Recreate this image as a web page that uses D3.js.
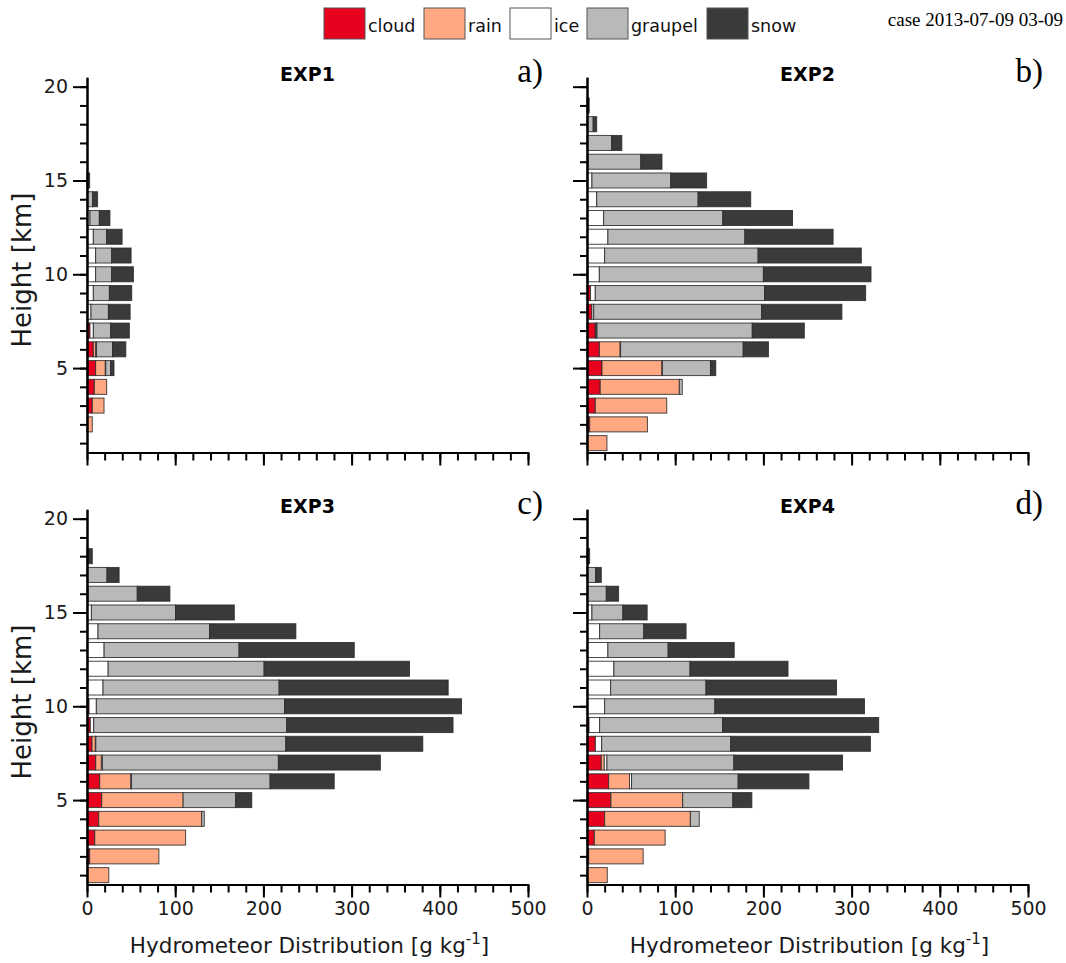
<!DOCTYPE html>
<html>
<head>
<meta charset="utf-8">
<script src="https://cdn.jsdelivr.net/npm/d3@7"></script>
<style>
  body { margin: 0; background: #fff; }
  text { font-family: "DejaVu Sans", sans-serif; }
</style>
</head>
<body>
<div id="chart"></div>
<script>
// heights of the bars (km), one bar per level
var heights = [1, 2, 3, 4, 5, 6, 7, 8, 9, 10, 11, 12, 13, 14, 15, 16, 17, 18, 19];
var species = ["cloud", "rain", "ice", "graupel", "snow"];
var speciesColors = ["#e8001f", "#ffa882", "#ffffff", "#b9b9b9", "#3a3a3a"];
var xTicks = [0, 100, 200, 300, 400, 500];
var yTicks = [5, 10, 15, 20];

// EXP1  (g kg-1 per level, bottom -> top)
var exp1_cloud   = [0, 0, 6, 8.3, 9.8, 7.2, 3.4, 0.5, 0, 0, 0, 0, 0, 0, 0, 0, 0, 0, 0];
var exp1_rain    = [0, 6, 13.3, 14, 11, 2.6, 0, 0, 0, 0, 0, 0, 0, 0, 0, 0, 0, 0, 0];
var exp1_ice     = [0, 0, 0, 0, 0.5, 1, 3.8, 4, 7.2, 9.8, 9.8, 7.2, 3.4, 0.5, 0, 0, 0, 0, 0];
var exp1_graupel = [0, 0, 0, 0, 5.5, 18.2, 19.7, 19.8, 18.2, 18.2, 18.2, 15.1, 10.6, 5.9, 0.3, 0, 0, 0, 0];
var exp1_snow    = [0, 0, 0, 0, 3.8, 15, 21.1, 24.6, 25.3, 24.6, 22, 17.5, 12, 5.6, 2.7, 0, 0, 0, 0];

// EXP2
var exp2_cloud   = [0, 3, 9.4, 15, 17, 14, 9.4, 5.6, 4, 1, 0, 0, 0, 0, 0, 0, 0, 0, 0];
var exp2_rain    = [22.6, 65.5, 81, 89.7, 68, 23.6, 1, 0, 0, 0, 0, 0, 0, 0, 0, 0, 0, 0, 0];
var exp2_ice     = [0, 0, 0, 0, 0.5, 0.5, 1, 2, 5.4, 13, 20, 23.7, 18.8, 11, 5.6, 1, 0.5, 0.5, 0];
var exp2_graupel = [0, 0, 0, 3.3, 54.5, 139, 176, 190.4, 192, 186, 174, 155.3, 135.2, 115, 89.4, 60, 27.5, 6.5, 0.5];
var exp2_snow    = [0, 0, 0, 0, 6, 28.6, 59, 91, 114.5, 122, 117, 100, 79, 59.6, 40.6, 24, 11.5, 4, 2];

// EXP3
var exp3_cloud   = [0, 3, 8.8, 13.3, 16.7, 14.4, 9.9, 5.7, 3.8, 2.3, 0, 0, 0, 0, 0, 0, 0, 0, 0];
var exp3_rain    = [24.7, 78.5, 103, 116.7, 92.3, 35.3, 6.4, 3.8, 0, 0, 0, 0, 0, 0, 0, 0, 0, 0, 0];
var exp3_ice     = [0, 0, 0, 0, 0, 0.7, 1.2, 0.5, 3.8, 8.3, 18.2, 24, 19.4, 12.5, 5, 1, 0.5, 0, 0];
var exp3_graupel = [0, 0, 0, 3, 59.6, 157.2, 199.5, 215.4, 218.9, 213.4, 199.6, 176.8, 153, 126.5, 95.4, 56, 22.2, 1, 0];
var exp3_snow    = [0, 0, 0, 0, 18.2, 72.7, 115.6, 155.3, 188.5, 200.6, 191.7, 164.8, 130.6, 97.8, 66.6, 37, 13.7, 5, 0];

// EXP4
var exp4_cloud   = [0, 1.9, 8.3, 20, 27.1, 24.5, 16.2, 9.5, 2.3, 0, 0, 0, 0, 0, 0, 0, 0, 0, 0];
var exp4_rain    = [23, 61.8, 80.3, 97.2, 81.4, 23.7, 3.4, 0, 0, 0, 0, 0, 0, 0, 0, 0, 0, 0, 0];
var exp4_ice     = [0, 0, 0, 0, 0, 2.3, 3, 7.1, 12, 20, 26.8, 30.5, 23.7, 14.3, 5.6, 0.5, 0.5, 0, 0];
var exp4_graupel = [0, 0, 0, 10.1, 56.9, 120.9, 143.9, 146.4, 139.4, 125, 108.1, 86.3, 68.3, 50.1, 35.1, 21.4, 9.3, 1, 0];
var exp4_snow    = [0, 0, 0, 0, 21.5, 80.2, 123.2, 158.3, 177, 169.6, 148, 111.1, 74.9, 47.9, 27.5, 13.9, 6.4, 2, 0];

var width = 1066;
var height = 963;

var svg = d3.select("#chart").append("svg")
    .attr("width", width)
    .attr("height", height);

function rowsOf(c, r, i, g, s) {
    return heights.map(function (h, k) {
        return { h: h, cloud: c[k], rain: r[k], ice: i[k], graupel: g[k], snow: s[k] };
    });
}

var panels = [
    { name: "EXP1", tag: "a)", left: 87, top: 0, ylab: true, xlab: false,
      rows: rowsOf(exp1_cloud, exp1_rain, exp1_ice, exp1_graupel, exp1_snow) },
    { name: "EXP2", tag: "b)", left: 587, top: 0, ylab: false, xlab: false,
      rows: rowsOf(exp2_cloud, exp2_rain, exp2_ice, exp2_graupel, exp2_snow) },
    { name: "EXP3", tag: "c)", left: 87, top: 432, ylab: true, xlab: true,
      rows: rowsOf(exp3_cloud, exp3_rain, exp3_ice, exp3_graupel, exp3_snow) },
    { name: "EXP4", tag: "d)", left: 587, top: 432, ylab: false, xlab: true,
      rows: rowsOf(exp4_cloud, exp4_rain, exp4_ice, exp4_graupel, exp4_snow) }
];

var color = d3.scaleOrdinal().domain(species).range(speciesColors);
var stack = d3.stack().keys(species);

panels.forEach(function (p) {
    var x = d3.scaleLinear().domain([0, 500]).range([p.left, p.left + 441]);
    var y = d3.scaleLinear().domain([0.5, 20.5]).range([p.top + 452.5, p.top + 77.3]);
    var bh = (y(0) - y(1)) * 0.8;

    var g = svg.append("g");

    // stacked bars
    var layers = g.selectAll("g.layer")
        .data(stack(p.rows))
        .enter().append("g")
        .attr("fill", function (d) { return color(d.key); });

    layers.selectAll("rect")
        .data(function (d) { return d.filter(function (s) { return s[1] - s[0] > 0; }); })
        .enter().append("rect")
        .attr("x", function (d) { return x(d[0]); })
        .attr("width", function (d) { return x(d[1]) - x(d[0]); })
        .attr("y", function (d) { return y(d.data.h) - bh / 2; })
        .attr("height", bh)
        .attr("stroke", "#2b2b2b")
        .attr("stroke-opacity", 0.85)
        .attr("stroke-width", 1);

    // y axis, minor then major ticks
    var yMinor = g.append("g")
        .attr("transform", "translate(" + p.left + ",0)")
        .call(d3.axisLeft(y).tickValues(d3.range(1, 21)).tickSize(7).tickSizeOuter(0).tickFormat(""));
    var yMajor = g.append("g")
        .attr("transform", "translate(" + p.left + ",0)")
        .call(d3.axisLeft(y).tickValues(yTicks).tickSize(14).tickSizeOuter(0).tickPadding(5)
            .tickFormat(p.ylab ? d3.format("d") : ""));

    // x axis
    var xMinor = g.append("g")
        .attr("transform", "translate(0," + y(0.5) + ")")
        .call(d3.axisBottom(x).tickValues(d3.range(0, 501, 20)).tickSize(8).tickSizeOuter(0).tickFormat(""));
    var xMajor = g.append("g")
        .attr("transform", "translate(0," + y(0.5) + ")")
        .call(d3.axisBottom(x).tickValues(xTicks).tickSize(13).tickSizeOuter(0).tickPadding(4)
            .tickFormat(p.xlab ? d3.format("d") : ""));

    [yMinor, yMajor, xMinor, xMajor].forEach(function (a) {
        a.selectAll("path.domain").attr("stroke", "#000").attr("stroke-width", 2);
        a.selectAll(".tick line").attr("stroke", "#000").attr("stroke-width", 2);
        a.selectAll(".tick text")
            .attr("fill", "#1a1a1a")
            .style("font-family", "DejaVu Sans, sans-serif")
            .style("font-size", "19px");
    });

    // titles
    g.append("text")
        .attr("x", (x(0) + x(500)) / 2)
        .attr("y", p.top + 81)
        .attr("text-anchor", "middle")
        .style("font-weight", "bold")
        .style("font-size", "19px")
        .text(p.name);

    g.append("text")
        .attr("x", x(500) + 15)
        .attr("y", p.top + 82)
        .attr("text-anchor", "end")
        .style("font-family", "Liberation Serif, serif")
        .style("font-size", "33px")
        .text(p.tag);

    if (p.ylab) {
        g.append("text")
            .attr("transform", "translate(31," + (p.top + 270) + ") rotate(-90)")
            .attr("text-anchor", "middle")
            .style("font-size", "26px")
            .attr("fill", "#1a1a1a")
            .text("Height [km]");
    }

    if (p.xlab) {
        var xl = g.append("text")
            .attr("x", (x(0) + x(500)) / 2 + 2)
            .attr("y", p.top + 521)
            .attr("text-anchor", "middle")
            .style("font-size", "21.5px")
            .attr("fill", "#1a1a1a");
        xl.append("tspan").text("Hydrometeor Distribution [g kg");
        xl.append("tspan").attr("dy", -9).style("font-size", "15px").text("-1");
        xl.append("tspan").attr("dy", 9).text("]");
    }
});

// legend
var legendX = [324, 424, 510, 587, 707];
var legend = svg.append("g").selectAll("g")
    .data(species)
    .enter().append("g")
    .attr("transform", function (d, i) { return "translate(" + legendX[i] + ",8)"; });

legend.append("rect")
    .attr("width", 41)
    .attr("height", 31)
    .attr("fill", function (d) { return color(d); })
    .attr("stroke", "#555")
    .attr("stroke-width", 1);

legend.append("text")
    .attr("x", 44)
    .attr("y", 24)
    .style("font-size", "17.5px")
    .attr("fill", "#111")
    .text(function (d) { return d; });

svg.append("text")
    .attr("x", 1063)
    .attr("y", 26)
    .attr("text-anchor", "end")
    .style("font-family", "Liberation Serif, serif")
    .style("font-size", "19px")
    .text("case 2013-07-09 03-09");
</script>
</body>
</html>
